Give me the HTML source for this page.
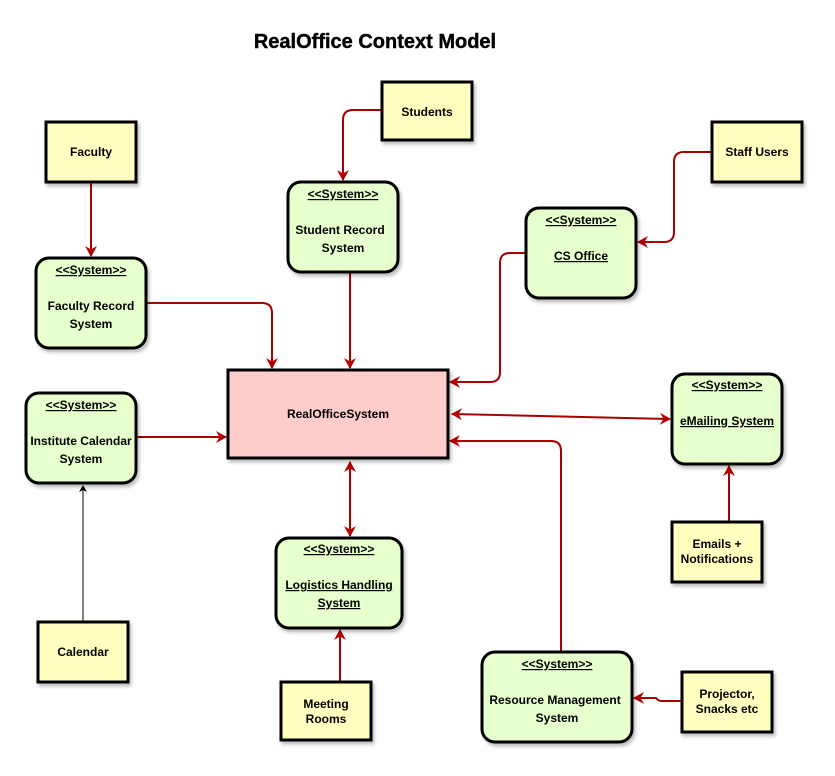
<!DOCTYPE html>
<html><head><meta charset="utf-8"><style>
html,body{margin:0;padding:0;background:#fff;}
svg{display:block;font-family:"Liberation Sans",Arial,sans-serif;}
</style></head><body>
<svg width="835" height="776" viewBox="0 0 835 776" xmlns="http://www.w3.org/2000/svg">
<defs>
<marker id="a" markerWidth="12" markerHeight="12" refX="10" refY="6" orient="auto" markerUnits="userSpaceOnUse">
<path d="M0,0 L11,6 L0,12 L3.5,6 Z" fill="#B20000"/></marker>
<marker id="as" markerWidth="12" markerHeight="12" refX="2" refY="6" orient="auto" markerUnits="userSpaceOnUse">
<path d="M12,0 L1,6 L12,12 L8.5,6 Z" fill="#B20000"/></marker>
<marker id="b" markerWidth="8" markerHeight="8" refX="6" refY="4" orient="auto" markerUnits="userSpaceOnUse">
<path d="M0,0 L7,4 L0,8 L2,4 Z" fill="#000"/></marker>
<filter id="sh" x="-10%" y="-10%" width="130%" height="130%"><feDropShadow dx="2" dy="3" stdDeviation="1.5" flood-opacity="0.25"/></filter>
</defs>
<text x="375" y="48" text-anchor="middle" font-size="20" font-weight="bold" stroke="#000" stroke-width="0.4">RealOffice Context Model</text>

<g fill="none" stroke="#A80000" stroke-width="2">
<path d="M382,110 H353 Q343,110 343,120 V180" marker-end="url(#a)"/>
<path d="M91,182 V256" marker-end="url(#a)"/>
<path d="M350,272 V368" marker-end="url(#a)"/>
<path d="M146,303 H262 Q272,303 272,313 V368" marker-end="url(#a)"/>
<path d="M526,253 H510 Q500,253 500,263 V372 Q500,382 490,382 H450" marker-end="url(#a)"/>
<path d="M712,152 H684 Q674,152 674,162 V232 Q674,242 664,242 H638" marker-end="url(#a)"/>
<path d="M136,437 H226" marker-end="url(#a)"/>
<path d="M452,414 L670,419" marker-start="url(#as)" marker-end="url(#a)"/>
<path d="M561,652 V451 Q561,441 551,441 H450" marker-end="url(#a)"/>
<path d="M729,522 V466" marker-end="url(#a)"/>
<path d="M350,462 V536" marker-start="url(#as)" marker-end="url(#a)"/>
<path d="M340,682 V630" marker-end="url(#a)"/>
<path d="M682,701 H662 Q658,701 656,698 H634" marker-end="url(#a)"/>
</g>
<path d="M83,622 V486" stroke="#000" stroke-width="1" fill="none" marker-end="url(#b)"/>

<g stroke="#000" stroke-width="3" filter="url(#sh)">
<rect x="228" y="370" width="220" height="88" fill="#FFCCCC"/>
<g fill="#FFFFC0">
<rect x="382" y="82" width="90" height="58"/>
<rect x="46" y="122" width="90" height="60"/>
<rect x="712" y="122" width="90" height="60"/>
<rect x="672" y="522" width="90" height="60"/>
<rect x="38" y="622" width="90" height="60"/>
<rect x="281" y="682" width="90" height="58"/>
<rect x="682" y="672" width="90" height="60"/>
</g>
<g fill="#E6FFCC">
<rect x="288" y="182" width="110" height="90" rx="13"/>
<rect x="526" y="208" width="110" height="90" rx="13"/>
<rect x="36" y="258" width="110" height="90" rx="13"/>
<rect x="26" y="393" width="110" height="90" rx="13"/>
<rect x="672" y="374" width="110" height="90" rx="13"/>
<rect x="276" y="538" width="126" height="90" rx="13"/>
<rect x="482" y="652" width="150" height="90" rx="13"/>
</g>
</g>

<g font-size="12" font-weight="bold" text-anchor="middle" fill="#000">
<text x="338" y="418">RealOfficeSystem</text>
<text x="427" y="116">Students</text>
<text x="91" y="156">Faculty</text>
<text x="757" y="156">Staff Users</text>
<text x="717" y="548">Emails +</text>
<text x="717" y="563">Notifications</text>
<text x="83" y="656">Calendar</text>
<text x="326" y="708">Meeting</text>
<text x="326" y="723">Rooms</text>
<text x="727" y="698">Projector,</text>
<text x="727" y="713">Snacks etc</text>

<text x="343" y="198" text-decoration="underline">&lt;&lt;System&gt;&gt;</text>
<text x="340" y="234">Student  Record</text>
<text x="343" y="252">System</text>

<text x="581" y="224" text-decoration="underline">&lt;&lt;System&gt;&gt;</text>
<text x="581" y="260" text-decoration="underline">CS Office</text>

<text x="91" y="274" text-decoration="underline">&lt;&lt;System&gt;&gt;</text>
<text x="91" y="310">Faculty Record</text>
<text x="91" y="328">System</text>

<text x="81" y="409" text-decoration="underline">&lt;&lt;System&gt;&gt;</text>
<text x="81" y="445">Institute Calendar</text>
<text x="81" y="463">System</text>

<text x="727" y="389" text-decoration="underline">&lt;&lt;System&gt;&gt;</text>
<text x="727" y="425" text-decoration="underline">eMailing System</text>

<text x="339" y="553" text-decoration="underline">&lt;&lt;System&gt;&gt;</text>
<text x="339" y="589" text-decoration="underline">Logistics Handling</text>
<text x="339" y="607" text-decoration="underline">System</text>

<text x="557" y="668" text-decoration="underline">&lt;&lt;System&gt;&gt;</text>
<text x="555" y="704">Resource Management</text>
<text x="557" y="722">System</text>
</g>
</svg>
</body></html>
